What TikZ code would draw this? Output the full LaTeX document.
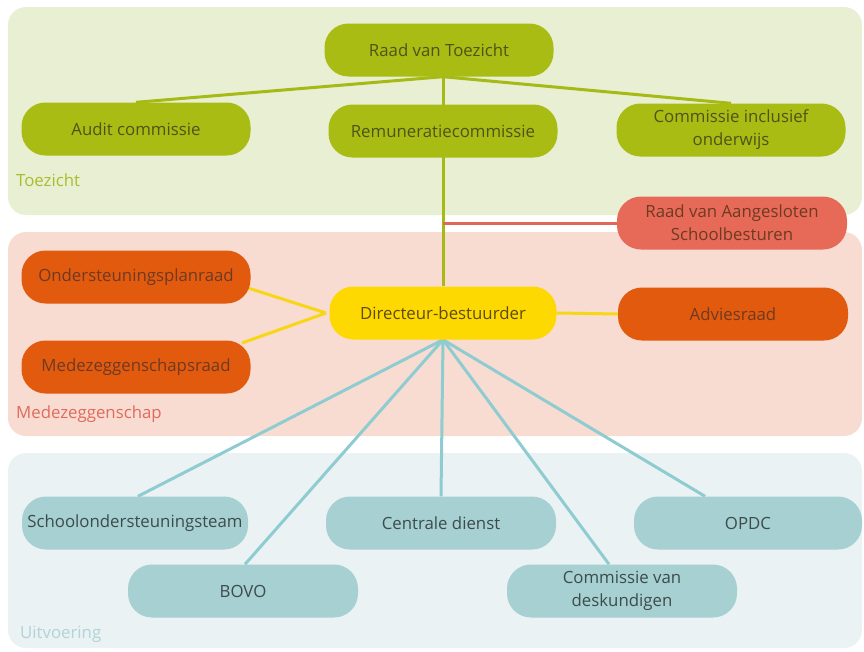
\documentclass[tikz,border=0pt]{standalone}
\usepackage{fontspec}
\setmainfont{Open Sans}
\pgfdeclarelayer{bgl}
\pgfdeclarelayer{linel}
\pgfsetlayers{bgl,linel,main}
\definecolor{tzbg}{HTML}{E9EFD3}
\definecolor{tznode}{HTML}{A8BC14}
\definecolor{tztext}{HTML}{4E5418}
\definecolor{tzline}{HTML}{A6BA16}
\definecolor{tzlabel}{HTML}{A9BD2C}
\definecolor{mzbg}{HTML}{F8DCD1}
\definecolor{mznode}{HTML}{E25A0E}
\definecolor{mztext}{HTML}{6E3A22}
\definecolor{rasnode}{HTML}{E76A58}
\definecolor{rasline}{HTML}{E2675A}
\definecolor{mzlabel}{HTML}{E06A5C}
\definecolor{dbnode}{HTML}{FED801}
\definecolor{dbtext}{HTML}{5C4C10}
\definecolor{dbline}{HTML}{F7D616}
\definecolor{uvbg}{HTML}{EAF2F3}
\definecolor{uvnode}{HTML}{A6D0D1}
\definecolor{uvtext}{HTML}{3E4B4C}
\definecolor{uvline}{HTML}{8FCCD1}
\definecolor{uvlabel}{HTML}{B0D4D9}
\tikzset{
  pill/.style={rectangle, rounded corners=24pt, minimum width=229pt, minimum height=53pt,
    inner sep=1pt, align=center, font=\fontsize{16.8}{23}\selectfont},
  tzbox/.style={pill, fill=tznode, text=tztext},
  mzbox/.style={pill, fill=mznode, text=mztext},
  rasbox/.style={pill, fill=rasnode, text=mztext},
  dbbox/.style={pill, fill=dbnode, text=dbtext},
  uvbox/.style={pill, fill=uvnode, text=uvtext},
  region/.style={rounded corners=18pt},
  reglabel/.style={anchor=west, inner sep=0pt, font=\fontsize{16.8}{20}\selectfont},
  conn/.style={line width=3pt}
}
\begin{document}
\begin{tikzpicture}[x=1pt,y=-1pt]
\useasboundingbox (0,0) rectangle (864,651);
% regions
\begin{pgfonlayer}{bgl}
\fill[region, tzbg] (8,7) rectangle (862,215);
\fill[region, mzbg] (8,232) rectangle (862,436);
\fill[region, uvbg] (8,453) rectangle (862,648);
\end{pgfonlayer}
\node[reglabel, text=tzlabel] (lt) at (16,180) {Toezicht};
\node[reglabel, text=mzlabel] (lm) at (16,414) {Medezeggenschap};
\node[reglabel, text=uvlabel] (lu) at (20,634) {Uitvoering};
% nodes
\node[tzbox] (rvt) at (439,50) {Raad van Toezicht};
\node[tzbox] (audit) at (136,129) {Audit commissie};
\node[tzbox] (rem) at (443,131) {Remuneratiecommissie};
\node[tzbox] (cio) at (731,130) {Commissie inclusief\\onderwijs};
\node[rasbox, minimum width=230pt] (ras) at (732,223) {Raad van Aangesloten\\Schoolbesturen};
\node[mzbox] (osp) at (136,277) {Ondersteuningsplanraad};
\node[dbbox, minimum width=227pt] (db) at (443,313) {Directeur-bestuurder};
\node[mzbox, minimum width=230pt] (adv) at (733,314) {Adviesraad};
\node[mzbox] (mzr) at (136,367) {Medezeggenschapsraad};
\node[uvbox, minimum width=226pt] (sot) at (135,523) {Schoolondersteuningsteam};
\node[uvbox, minimum width=230pt] (bovo) at (243,591) {BOVO};
\node[uvbox, minimum width=230pt] (cd) at (441,523) {Centrale dienst};
\node[uvbox, minimum width=230pt] (cvd) at (622,591) {Commissie van\\deskundigen};
\node[uvbox, minimum width=228pt] (opdc) at (748,523) {OPDC};
\coordinate (dbl) at (326,313);
% connectors
\begin{pgfonlayer}{linel}
\draw[conn, tzline] ([xshift=4pt]rvt.south) -- (audit.north);
\draw[conn, tzline] ([xshift=4pt]rvt.south) -- (cio.north);
\draw[conn, tzline] ([xshift=4pt]rvt.south) -- (db.north);
\draw[conn, rasline] (db.north |- ras.west) -- (ras.west);
\draw[conn, dbline] (dbl) -- ([xshift=109pt,yshift=-10pt]osp.center);
\draw[conn, dbline] (dbl) -- ([xshift=106pt,yshift=24pt]osp.center |- mzr.center);
\draw[conn, dbline] (db.east) -- (adv.west);
\draw[conn, uvline] (db.south) -- ([xshift=3pt]sot.north);
\draw[conn, uvline] (db.south) -- ([xshift=2pt]bovo.north);
\draw[conn, uvline] (db.south) -- (cd.north);
\draw[conn, uvline] (db.south) -- ([xshift=-13pt]cvd.north);
\draw[conn, uvline] (db.south) -- ([xshift=-43pt]opdc.north);
\end{pgfonlayer}
\end{tikzpicture}
\end{document}
